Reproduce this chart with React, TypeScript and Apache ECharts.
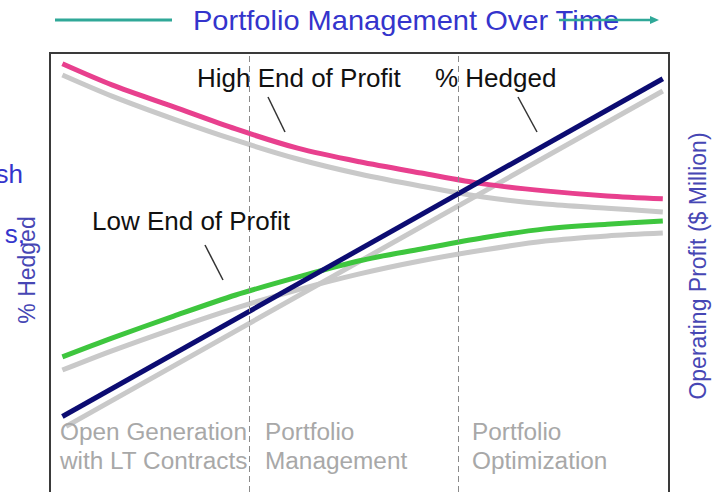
import React, { useEffect, useRef } from "react";
import * as echarts from "echarts";

// Time axis (0 = start, 100 = end of horizon) and relative value axis (0..100)
const timeX = [2, 10, 20, 30, 40, 50, 60, 70, 80, 90, 99];
const highEnd = [97.7, 93.2, 88.5, 83.8, 79.7, 76.8, 74.4, 72.1, 70.6, 69.5, 68.9];
const highEndShadow = [95.3, 90.8, 85.9, 81.4, 77.4, 74.2, 71.6, 69.3, 67.8, 66.9, 66.1];
const lowEnd = [35.2, 39.2, 43.9, 48.4, 52.2, 55.7, 58.2, 60.6, 62.5, 63.5, 64.2];
const lowEndShadow = [32.4, 36.5, 41.2, 45.6, 49.5, 52.9, 55.7, 58.0, 59.9, 61.0, 61.6];
const hedgedX = [2, 99];
const hedged = [22.5, 94.5];
const hedgedShadowX = [2.6, 99];
const hedgedShadow = [20.4, 91.9];
const phaseBoundaries = [32.2, 66];

const title = "Portfolio Management Over Time";
const phaseLabels = [
  ["Open Generation", "with LT Contracts"],
  ["Portfolio", "Management"],
  ["Portfolio", "Optimization"],
];

const FONT = '"Liberation Sans", Arial, Helvetica, sans-serif';

const pairs = (xs: number[], ys: number[]) => xs.map((x, i) => [x, ys[i]]);

export default function App() {
  const ref = useRef<HTMLDivElement>(null);

  useEffect(() => {
    document.body.style.margin = "0";
    const chart = echarts.init(ref.current!, null, { renderer: "svg" });

    const lineSeries = (name: string, data: number[][], color: string, z: number, extra: any = {}) => ({
      name,
      type: "line",
      data,
      smooth: 0.3,
      symbol: "none",
      z,
      silent: true,
      lineStyle: { color, width: 5, cap: "butt" },
      ...extra,
    });

    const txt = (text: string, x: number, y: number, size: number, fill: string, opts: any = {}) => ({
      type: "text",
      x,
      y,
      z: 10,
      silent: true,
      ...opts.el,
      style: {
        text,
        fill,
        font: `${size}px ${FONT}`,
        textAlign: opts.align || "left",
        textVerticalAlign: "middle",
      },
    });

    const leader = (x1: number, y1: number, x2: number, y2: number) => ({
      type: "line",
      z: 10,
      silent: true,
      shape: { x1, y1, x2, y2 },
      style: { stroke: "#333333", lineWidth: 1.5 },
    });

    const phaseX = [60, 265, 472];
    const phaseTexts: any[] = [];
    phaseLabels.forEach((lines, i) => {
      lines.forEach((l, j) => {
        phaseTexts.push(txt(l, phaseX[i], 432 + j * 29, 23, "#a8a8a8", { el: { scaleX: 1.06 } }));
      });
    });

    chart.setOption({
      animation: false,
      backgroundColor: "#ffffff",
      grid: {
        left: 50,
        right: 55,
        top: 53,
        bottom: 8,
        show: true,
        borderColor: "#3a3a3a",
        borderWidth: 2,
        backgroundColor: "transparent",
      },
      xAxis: {
        type: "value",
        min: 0,
        max: 100,
        show: false,
      },
      yAxis: {
        type: "value",
        min: 0,
        max: 100,
        show: false,
      },
      series: [
        lineSeries("High End Shadow", pairs(timeX, highEndShadow), "#c9c9c9", 2),
        lineSeries("Low End Shadow", pairs(timeX, lowEndShadow), "#c9c9c9", 2),
        lineSeries("% Hedged Shadow", pairs(hedgedShadowX, hedgedShadow), "#c9c9c9", 2, {
          smooth: false,
          markLine: {
            silent: true,
            symbol: ["none", "none"],
            label: { show: false },
            lineStyle: { type: [6, 4], color: "#8a8a8a", width: 1 },
            data: phaseBoundaries.map((v) => ({ xAxis: v })),
          },
        }),
        lineSeries("High End of Profit", pairs(timeX, highEnd), "#e8408e", 3),
        lineSeries("Low End of Profit", pairs(timeX, lowEnd), "#3ec63e", 3),
        lineSeries("% Hedged", pairs(hedgedX, hedged), "#0c0c72", 4, { smooth: false }),
      ],
      graphic: [
        // title with arrow
        txt(title, 193, 21, 27, "#3434cc", { el: { scaleX: 1.076 } }),
        {
          type: "line",
          z: 11,
          silent: true,
          shape: { x1: 55, y1: 20, x2: 172, y2: 20 },
          style: { stroke: "#2fa898", lineWidth: 3 },
        },
        {
          type: "line",
          z: 11,
          silent: true,
          shape: { x1: 559, y1: 20, x2: 652, y2: 20 },
          style: { stroke: "#2fa898", lineWidth: 2.5 },
        },
        {
          type: "polygon",
          z: 11,
          silent: true,
          shape: { points: [[650, 16], [659, 20], [650, 24]] },
          style: { fill: "#2fa898" },
        },
        // annotations
        txt("High End of Profit", 197, 78, 25, "#111111", { el: { scaleX: 1.04 } }),
        txt("% Hedged", 435, 78, 25, "#111111", { el: { scaleX: 1.04 } }),
        txt("Low End of Profit", 92, 221, 25, "#111111", { el: { scaleX: 1.04 } }),
        leader(268, 97, 285, 132),
        leader(518, 97, 537, 132),
        leader(205, 245, 223, 280),
        // phase labels
        ...phaseTexts,
        // axis titles
        txt("% Hedged", 27, 270, 23, "#4646b4", { align: "center", el: { rotation: Math.PI / 2 } }),
        txt("Operating Profit ($ Million)", 698, 266, 23, "#4646b4", {
          align: "center",
          el: { rotation: Math.PI / 2 },
        }),
        // texts cropped at the left edge, as in the reference
        txt("sh", 23, 174, 26, "#3434cc", { align: "right" }),
        txt("s,", 25, 234, 26, "#3434cc", { align: "right" }),
      ],
    });

    return () => chart.dispose();
  }, []);

  return (
    <div style={{ position: "absolute", left: 0, top: 0, width: 724, height: 492, overflow: "hidden" }}>
      <div ref={ref} style={{ width: 724, height: 530 }} />
    </div>
  );
}
